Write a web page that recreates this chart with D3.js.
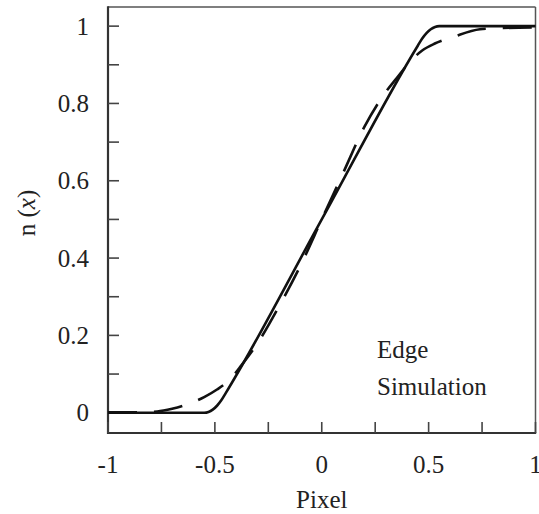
<!DOCTYPE html>
<html>
<head>
<meta charset="utf-8">
<script src="https://d3js.org/d3.v7.min.js"></script>
<style>
  html, body { margin: 0; padding: 0; background: #fff; }
  svg { display: block; }
</style>
</head>
<body>
<svg id="chart"></svg>
<script>
// ── Daten ─────────────────────────────────────────────
const solidX = [-1, -0.55, -0.53, -0.51, -0.49, -0.47, -0.45, 0, 0.45, 0.47, 0.49, 0.51, 0.53, 0.55, 1];
const solidY = [0, 0, 0.002, 0.008, 0.018, 0.032, 0.05, 0.5, 0.95, 0.968, 0.982, 0.992, 0.998, 1, 1];

const dashX = [-1, -0.86, -0.77, -0.7, -0.626, -0.548, -0.49, -0.431, -0.375, -0.3, -0.2, -0.1, 0,
               0.1, 0.2, 0.3, 0.35, 0.413, 0.47, 0.529, 0.615, 0.74, 0.84, 1];
const dashY = [0.001, 0.001, 0.003, 0.010, 0.022, 0.041, 0.06, 0.085, 0.123, 0.18, 0.275, 0.38, 0.5,
               0.62, 0.74, 0.83, 0.865, 0.908, 0.937, 0.955, 0.972, 0.992, 0.995, 0.997];

const xTicksMajor = [-1, -0.5, 0, 0.5, 1];
const xTicksMinor = [-0.75, -0.25, 0.25, 0.75];
const yTicks = [0, 0.1, 0.2, 0.3, 0.4, 0.5, 0.6, 0.7, 0.8, 0.9, 1];
const yLabels = [0, 0.2, 0.4, 0.6, 0.8, 1];

const W = 539, H = 514;
const FONT = 'Liberation Serif';

const svg = d3.select('#chart').attr('width', W).attr('height', H);

const x = d3.scaleLinear().domain([-1, 1]).range([108, 535.5]);
const y = d3.scaleLinear().domain([-0.0525, 1.0495]).range([433, 7]);

const x0 = x.range()[0], x1 = x.range()[1];
const yb = y.range()[0], yt = y.range()[1];

// ── Rahmen ────────────────────────────────────────────
svg.append('line').attr('x1', x0).attr('x2', x1).attr('y1', yt).attr('y2', yt)
  .attr('stroke', '#555').attr('stroke-width', 1.5);
svg.append('line').attr('x1', x1).attr('x2', x1).attr('y1', yt).attr('y2', yb)
  .attr('stroke', '#555').attr('stroke-width', 1.5);
svg.append('line').attr('x1', x0).attr('x2', x0).attr('y1', yt - 0.7).attr('y2', yb + 1)
  .attr('stroke', '#333').attr('stroke-width', 2.2);
svg.append('line').attr('x1', x0 - 1).attr('x2', x1 + 0.7).attr('y1', yb).attr('y2', yb)
  .attr('stroke', '#333').attr('stroke-width', 2.2);

// ── Ticks ─────────────────────────────────────────────
const TL = 11;
svg.append('g').selectAll('line')
  .data(xTicksMajor.concat(xTicksMinor)).join('line')
    .attr('x1', d => x(d)).attr('x2', d => x(d))
    .attr('y1', yb).attr('y2', yb - TL)
    .attr('stroke', '#444').attr('stroke-width', 1.6);

svg.append('g').selectAll('line')
  .data(yTicks).join('line')
    .attr('x1', x0).attr('x2', x0 + TL)
    .attr('y1', d => y(d)).attr('y2', d => y(d))
    .attr('stroke', '#444').attr('stroke-width', 1.6);

// ── Beschriftungen ────────────────────────────────────
function label(sel) {
  return sel.attr('font-family', FONT).attr('font-size', 25).attr('fill', '#222');
}

svg.append('g').selectAll('text')
  .data(xTicksMajor).join('text')
    .attr('x', d => x(d)).attr('y', 473)
    .attr('text-anchor', 'middle')
    .call(label)
    .text(d => String(d));

svg.append('g').selectAll('text')
  .data(yLabels).join('text')
    .attr('x', 89).attr('y', d => y(d)).attr('dy', '0.34em')
    .attr('text-anchor', 'end')
    .call(label)
    .text(d => String(d));

svg.append('text')
  .attr('x', x(0)).attr('y', 508)
  .attr('text-anchor', 'middle')
  .call(label)
  .text('Pixel');

const yl = svg.append('text')
  .attr('transform', 'translate(35,213) rotate(-90)')
  .attr('text-anchor', 'middle')
  .call(label);
yl.append('tspan').text('n (');
yl.append('tspan').attr('font-style', 'italic').text('x');
yl.append('tspan').text(')');

svg.append('text').attr('x', 377).attr('y', 358).call(label).text('Edge');
svg.append('text').attr('x', 377).attr('y', 395).call(label).text('Simulation');

// ── Kurven ────────────────────────────────────────────
const line = d3.line().x(d => x(d[0])).y(d => y(d[1])).curve(d3.curveMonotoneX);

svg.append('path')
  .datum(solidX.map((v, i) => [v, solidY[i]]))
  .attr('d', line)
  .attr('fill', 'none').attr('stroke', '#111').attr('stroke-width', 2.6)
  .attr('stroke-linejoin', 'round');

svg.append('path')
  .datum(dashX.map((v, i) => [v, dashY[i]]))
  .attr('d', line)
  .attr('fill', 'none').attr('stroke', '#111').attr('stroke-width', 2.6)
  .attr('stroke-dasharray', '29,17');
</script>
</body>
</html>
